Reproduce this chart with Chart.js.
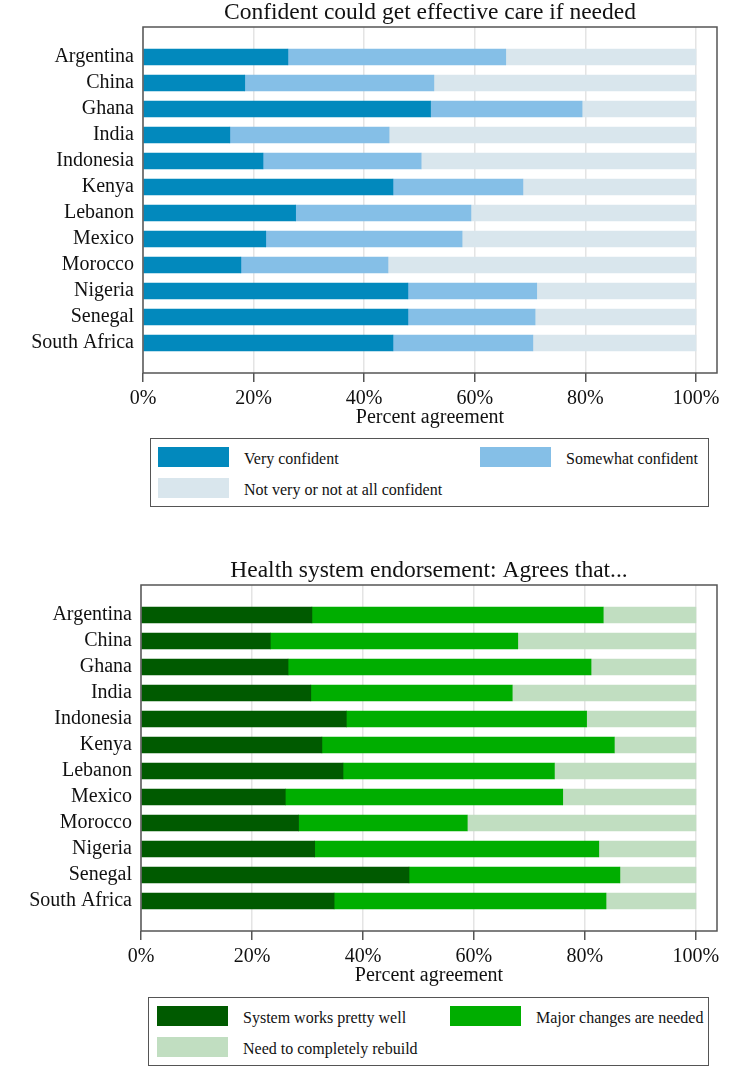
<!DOCTYPE html>
<html>
<head>
<meta charset="utf-8">
<script src="https://cdn.jsdelivr.net/npm/chart.js@4.4.1/dist/chart.umd.min.js"></script>
<style>
  body { margin: 0; background: #fff; }
  #page { position: relative; width: 740px; height: 1067px; overflow: hidden; }
  canvas { position: absolute; left: 0; }
  .legend { position: absolute; border: 1.5px solid #555; box-sizing: border-box;
            font-family: "Liberation Serif", "Times New Roman", serif; font-size: 16px; color: #111; }
  .legend .sw { position: absolute; width: 71px; height: 20px; }
  .legend .txt { position: absolute; line-height: 20px; white-space: nowrap; }
</style>
</head>
<body>
<div id="page">
  <canvas id="care-chart" width="740" height="436" style="top:0px"></canvas>
  <div id="care-legend" class="legend" style="left:150px; top:438px; width:559px; height:69px"></div>
  <canvas id="system-chart" width="740" height="436" style="top:558px"></canvas>
  <div id="system-legend" class="legend" style="left:148px; top:997px; width:561px; height:69px"></div>
</div>
<script>
const countries = ['Argentina', 'China', 'Ghana', 'India', 'Indonesia', 'Kenya',
                   'Lebanon', 'Mexico', 'Morocco', 'Nigeria', 'Senegal', 'South Africa'];

// Confident could get effective care if needed (percent of respondents)
const veryConfident     = [26.2, 18.4, 52.0, 15.7, 21.7, 45.2, 27.6, 22.2, 17.7, 47.9, 47.9, 45.2];
const somewhatConfident = [39.4, 34.2, 27.4, 28.8, 28.6, 23.5, 31.7, 35.5, 26.6, 23.3, 23.0, 25.3];
const notConfident      = [34.4, 47.4, 20.6, 55.5, 49.7, 31.3, 40.7, 42.3, 55.7, 28.8, 29.1, 29.5];

// Health system endorsement
const worksWell    = [30.8, 23.3, 26.5, 30.6, 37.0, 32.6, 36.4, 26.0, 28.4, 31.3, 48.3, 34.8];
const majorChanges = [52.5, 44.6, 54.6, 36.3, 43.3, 52.7, 38.1, 50.0, 30.4, 51.2, 38.0, 49.0];
const rebuild      = [16.7, 32.1, 18.9, 33.1, 19.7, 14.7, 25.5, 24.0, 41.2, 17.5, 13.7, 16.2];

const xTicks = [0, 20, 40, 60, 80, 100];

const serif = '"Liberation Serif", "Times New Roman", serif';
const textColor = '#111';

// draws the box round the plot area, on top of the bars
const framePlugin = {
    id: 'frame',
    afterDatasetsDraw(chart) {
        const a = chart.chartArea;
        const ctx = chart.ctx;
        ctx.save();
        ctx.strokeStyle = '#555';
        ctx.lineWidth = 1.5;
        ctx.strokeRect(a.left, a.top, a.right - a.left, a.bottom - a.top);
        ctx.restore();
    }
};

function makeChart(canvasId, title, series, left) {
    const ctx = document.getElementById(canvasId);
    const datasets = series.map(s => ({
        label: s.label,
        data: s.values.map((v, i) => ({x: v, y: i})),
        backgroundColor: s.color,
        borderWidth: 0,
        barThickness: 16
    }));
    return new Chart(ctx, {
        type: 'bar',
        data: {datasets: datasets},
        plugins: [framePlugin],
        options: {
            indexAxis: 'y',
            responsive: false,
            animation: false,
            devicePixelRatio: 1,
            layout: {padding: {left: 0, right: 23, top: 0, bottom: 0}},
            plugins: {
                legend: {display: false},
                tooltip: {enabled: false},
                title: {
                    display: true,
                    text: title,
                    fullSize: false,
                    color: textColor,
                    font: {family: serif, size: 23.5, weight: 'normal', lineHeight: 1.0},
                    padding: {top: 1, bottom: 2.5}
                }
            },
            scales: {
                x: {
                    stacked: true,
                    min: 0,
                    max: 103.8,
                    afterBuildTicks: scale => { scale.ticks = xTicks.map(v => ({value: v})); },
                    afterFit: scale => { scale.height = 436 - 373; },
                    grid: {color: '#e4e4e4', lineWidth: 1.5, tickColor: '#555', tickLength: 9},
                    border: {display: false},
                    ticks: {
                        color: textColor,
                        padding: 5,
                        maxRotation: 0,
                        font: {family: serif, size: 20},
                        callback: v => v + '%'
                    },
                    title: {
                        display: true,
                        text: 'Percent agreement',
                        color: textColor,
                        font: {family: serif, size: 20},
                        padding: {top: 0, bottom: 6}
                    }
                },
                y: {
                    type: 'linear',
                    stacked: true,
                    reverse: true,
                    offset: false,
                    min: -1.154,
                    max: 12.154,
                    afterBuildTicks: scale => { scale.ticks = countries.map((c, i) => ({value: i})); },
                    afterFit: scale => { scale.width = left; },
                    grid: {display: false, drawTicks: false},
                    border: {display: false},
                    ticks: {
                        color: textColor,
                        padding: 9,
                        font: {family: serif, size: 20},
                        callback: v => countries[v]
                    }
                }
            }
        }
    });
}

function buildLegend(chart, elId, cols) {
    const el = document.getElementById(elId);
    chart.data.datasets.forEach((ds, i) => {
        const col = cols[i % 2];
        const top = 8 + Math.floor(i / 2) * 31;
        const sw = document.createElement('div');
        sw.className = 'sw';
        sw.style.left = col + 'px';
        sw.style.top = top + 'px';
        sw.style.background = ds.backgroundColor;
        const txt = document.createElement('div');
        txt.className = 'txt';
        txt.style.left = (col + 86) + 'px';
        txt.style.top = (top + 2) + 'px';
        txt.textContent = ds.label;
        el.appendChild(sw);
        el.appendChild(txt);
    });
}

const careChart = makeChart('care-chart', 'Confident could get effective care if needed', [
    {label: 'Very confident', values: veryConfident, color: '#0289bd'},
    {label: 'Somewhat confident', values: somewhatConfident, color: '#85bfe7'},
    {label: 'Not very or not at all confident', values: notConfident, color: '#d9e6ed'}
], 143);
buildLegend(careChart, 'care-legend', [7, 329]);

const systemChart = makeChart('system-chart', 'Health system endorsement: Agrees that...', [
    {label: 'System works pretty well', values: worksWell, color: '#005a00'},
    {label: 'Major changes are needed', values: majorChanges, color: '#00ae00'},
    {label: 'Need to completely rebuild', values: rebuild, color: '#c1dec1'}
], 141);
buildLegend(systemChart, 'system-legend', [8, 301]);
</script>
</body>
</html>
